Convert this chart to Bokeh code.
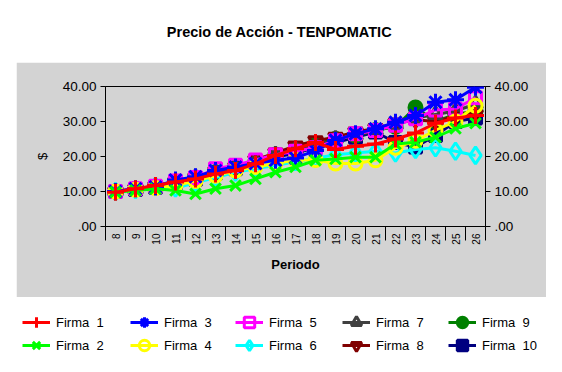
import math
from bokeh.plotting import figure
from bokeh.layouts import column
from bokeh.models import (Range1d, FixedTicker, LinearAxis, Label,
                          Legend, LegendItem)
from bokeh.embed import file_html
from bokeh.resources import INLINE

periodos = list(range(8, 27))
firma_1 = [9.8, 10.8, 11.7, 12.7, 13.6, 15.0, 16.0, 17.9, 20.3, 22.2, 24.0, 22.0, 22.9, 23.6, 25.0, 26.7, 29.5, 31.0, 31.7]
firma_2 = [9.8, 10.3, 10.8, 10.3, 9.3, 10.8, 11.7, 13.6, 15.5, 17.0, 18.9, 19.3, 19.8, 19.8, 23.6, 24.1, 25.5, 28.0, 29.5]
firma_3 = [10.0, 10.8, 11.3, 13.3, 14.2, 16.0, 17.0, 18.0, 18.9, 19.6, 21.7, 24.6, 26.5, 27.9, 29.8, 31.7, 35.5, 36.2, 39.8]
firma_4 = [10.0, 10.5, 11.0, 11.8, 13.0, 14.5, 16.0, 17.0, 18.0, 19.0, 19.0, 18.0, 18.0, 18.9, 22.5, 24.5, 27.5, 30.0, 34.5]
firma_5 = [10.0, 10.8, 11.5, 13.0, 14.0, 16.5, 17.5, 19.0, 20.5, 21.5, 22.5, 24.5, 26.5, 27.4, 28.9, 30.8, 33.3, 33.6, 36.8]
firma_6 = [10.0, 10.5, 11.5, 11.0, 12.5, 14.0, 15.5, 16.5, 17.5, 18.5, 19.5, 20.5, 21.0, 21.5, 21.0, 22.0, 22.5, 21.5, 20.3]
firma_7 = [10.0, 10.6, 11.3, 12.5, 14.0, 15.5, 16.8, 18.5, 20.5, 22.0, 23.0, 25.0, 26.0, 27.5, 29.0, 31.0, 32.0, 33.0, 35.0]
firma_8 = [10.0, 10.8, 11.5, 12.8, 14.0, 15.8, 17.0, 19.0, 21.0, 23.0, 24.5, 25.5, 27.0, 28.0, 29.5, 30.5, 30.0, 31.5, 32.0]
firma_9 = [10.0, 10.7, 11.4, 12.6, 13.8, 15.5, 16.8, 18.5, 20.5, 22.0, 23.5, 25.0, 26.0, 27.5, 28.5, 34.0, 30.0, 32.0, 33.0]
firma_10 = [10.0, 10.6, 11.2, 12.4, 13.5, 15.2, 16.5, 18.3, 19.8, 21.0, 22.5, 24.0, 25.5, 27.0, 24.0, 22.7, 26.0, 30.0, 31.0]

nombres = ["Firma  1", "Firma  2", "Firma  3", "Firma  4", "Firma  5",
           "Firma  6", "Firma  7", "Firma  8", "Firma  9", "Firma  10"]
series = [firma_1, firma_2, firma_3, firma_4, firma_5,
          firma_6, firma_7, firma_8, firma_9, firma_10]
y_ticks = [0, 10, 20, 30, 40]
y_labels = [".00", "10.00", "20.00", "30.00", "40.00"]
titulo = "Precio de Acción - TENPOMATIC"

estilos = [
    dict(marker="cross", color="#FF0000", size=17, fill=None),
    dict(marker="x", color="#00FF00", size=15, fill=None),
    dict(marker="asterisk", color="#0000FF", size=17, fill=None),
    dict(marker="circle", color="#FFFF00", size=13, fill=None),
    dict(marker="square", color="#FF00FF", size=12, fill=None),
    dict(marker="diamond", color="#00FFFF", size=17, fill=None),
    dict(marker="triangle", color="#404040", size=14, fill=None),
    dict(marker="inverted_triangle", color="#800000", size=14, fill=None),
    dict(marker="circle", color="#008000", size=13, fill="#008000"),
    dict(marker="square", color="#000080", size=12, fill="#000080"),
]

FONT = "Liberation Sans"
GRAY = "#D3D3D3"

# ---- title strip (white) ----
t = figure(width=560, height=62, output_backend="svg", toolbar_location=None,
           x_range=Range1d(0, 560), y_range=Range1d(0, 62), min_border=0,
           x_axis_location=None, y_axis_location=None)
t.frame_align = False
t.outline_line_color = None
t.grid.visible = False
t.border_fill_color = "white"
t.background_fill_color = "white"
t.add_layout(Label(x=279, y=31, text=titulo, text_align="center",
                   text_baseline="middle", text_font=FONT, text_color="black",
                   text_font_size="14.5px", text_font_style="bold"))

# ---- main chart (gray panel) ----
p = figure(width=530, height=235, output_backend="svg", toolbar_location=None,
           x_range=Range1d(7.5, 26.5), y_range=Range1d(0, 40),
           min_border_left=89, min_border_right=61, min_border_top=24,
           min_border_bottom=71, x_axis_location=None, y_axis_location=None)
p.frame_align = False
p.margin = (0, 0, 0, 16)
p.border_fill_color = GRAY
p.background_fill_color = GRAY
p.outline_line_color = "black"
p.outline_line_width = 1
p.grid.visible = False

xax = LinearAxis(ticker=FixedTicker(ticks=periodos,
                                    minor_ticks=[x - 0.5 for x in periodos] + [26.5]))
xax.major_label_overrides = {x: str(x) for x in periodos}
xax.axis_line_color = "black"
xax.major_tick_out = 0
xax.major_tick_in = 0
xax.minor_tick_out = 14
xax.minor_tick_in = 0
xax.minor_tick_line_color = "black"
xax.major_label_orientation = math.pi / 2
xax.major_label_standoff = -7
xax.major_label_text_font = FONT
xax.major_label_text_font_size = "10px"
xax.major_label_text_color = "black"
xax.axis_label = "Periodo"
xax.axis_label_text_font = FONT
xax.axis_label_text_font_size = "13px"
xax.axis_label_text_font_style = "bold"
xax.axis_label_text_color = "black"
xax.axis_label_standoff = 9
p.add_layout(xax, "below")

def y_axis():
    ax = LinearAxis(ticker=FixedTicker(ticks=y_ticks, minor_ticks=[]))
    ax.major_label_overrides = dict(zip(y_ticks, y_labels))
    ax.axis_line_color = "black"
    ax.major_tick_line_color = "black"
    ax.major_tick_out = 5
    ax.major_tick_in = 0
    ax.minor_tick_out = 0
    ax.major_label_standoff = 4
    ax.major_label_text_font = FONT
    ax.major_label_text_font_size = "13.5px"
    ax.major_label_text_color = "black"
    return ax

yl = y_axis()
yl.axis_label = "$"
yl.axis_label_text_font = FONT
yl.axis_label_text_font_size = "13px"
yl.axis_label_text_font_style = "normal"
yl.axis_label_text_color = "black"
yl.axis_label_standoff = 10
p.add_layout(yl, "left")
yr = y_axis()
p.add_layout(yr, "right")

for i in reversed(range(10)):
    st = estilos[i]
    p.line(periodos, series[i], line_color=st["color"], line_width=3)
    p.scatter(periodos, series[i], marker=st["marker"], size=st["size"],
              line_color=st["color"], line_width=3,
              fill_color=st["fill"] if st["fill"] else None)

# ---- legend strip (white) ----
lf = figure(width=560, height=73, output_backend="svg", toolbar_location=None,
            x_range=Range1d(1000, 1560), y_range=Range1d(1000, 1073),
            min_border=0, x_axis_location=None, y_axis_location=None)
lf.frame_align = False
lf.outline_line_color = None
lf.grid.visible = False
lf.border_fill_color = "white"
lf.background_fill_color = "white"

items = []
for i in range(10):
    st = estilos[i]
    ln = lf.line(periodos, series[i], line_color=st["color"], line_width=3)
    sc = lf.scatter(periodos, series[i], marker=st["marker"], size=st["size"],
                    line_color=st["color"], line_width=3,
                    fill_color=st["fill"] if st["fill"] else None)
    items.append(LegendItem(label=nombres[i], renderers=[ln, sc]))

col_x = [22, 130, 235, 342, 448]
row_y = [35, 12]
for i in range(10):
    lg = Legend(items=[items[i]], location=(col_x[i // 2], row_y[i % 2]),
                orientation="vertical", glyph_width=28, glyph_height=26,
                spacing=0, label_standoff=6, padding=0, margin=0,
                border_line_color=None, background_fill_alpha=0,
                label_text_font=FONT, label_text_font_size="13px",
                label_text_color="black", label_height=20)
    lf.add_layout(lg, "center")

layout = column(t, p, lf, spacing=0)
open("out.html", "w").write(file_html(layout, INLINE))
